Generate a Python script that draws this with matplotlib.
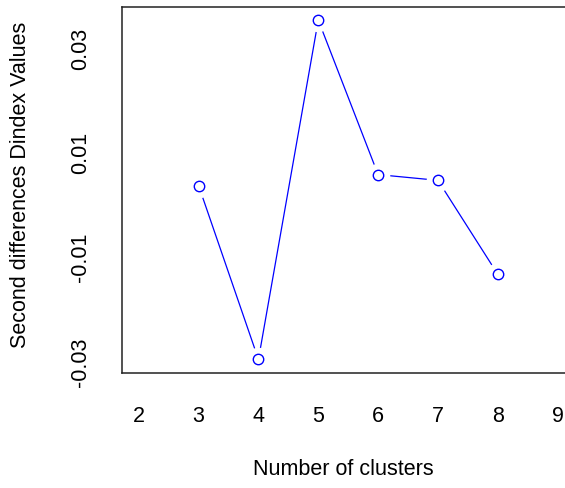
import matplotlib
matplotlib.use("Agg")
import matplotlib.pyplot as plt

plt.rcParams['font.family'] = ['Liberation Sans', 'DejaVu Sans']

# second differences of the Dindex, by number of clusters
clusters = [3, 4, 5, 6, 7, 8]
second_diff = [0.0036, -0.0297, 0.0353, 0.0057, 0.0046, -0.0134]

xticks = [2, 3, 4, 5, 6, 7, 8, 9]
yticks = [-0.03, -0.01, 0.01, 0.03]
ytick_labels = ["-0.03", "-0.01", "0.01", "0.03"]

W, H = 565, 489
fig = plt.figure(figsize=(W / 100, H / 100), dpi=100)
# R-style plot region, right edge runs past the image
ax = fig.add_axes([122 / W, 115 / H, 452.4 / W, 366.5 / H])

# type = "b": line with gaps round the points
ax.plot(clusters, second_diff, color='blue', lw=0.9, zorder=2)
ax.plot(clusters, second_diff, ls='none', marker='o', ms=17,
        mfc='white', mec='none', zorder=3)
ax.plot(clusters, second_diff, ls='none', marker='o', ms=7.5,
        mfc='white', mec='blue', mew=1.0, zorder=4)

ax.set_xlim(1.72, 9.28)
lo, hi = min(second_diff), max(second_diff)
r = hi - lo
ax.set_ylim(lo - 0.04 * r, hi + 0.04 * r)

ax.set_xticks(xticks)
ax.set_yticks(yticks)
ax.set_yticklabels(ytick_labels, rotation=90, va='center')
ax.tick_params(axis='x', length=0, pad=23, labelsize=15.5)
ax.tick_params(axis='y', length=0, pad=22, labelsize=15.5)

for s in ax.spines.values():
    s.set_linewidth(1.1)
    s.set_color('#222222')

fig.text(343 / W, 1 - 470 / H, "Number of clusters", ha='center', va='center',
         fontsize=15.5)
fig.text(21 / W, 1 - 185 / H, "Second differences Dindex Values", ha='center',
         va='center', rotation=90, fontsize=15.5)

fig.savefig("out.png", dpi=100)
